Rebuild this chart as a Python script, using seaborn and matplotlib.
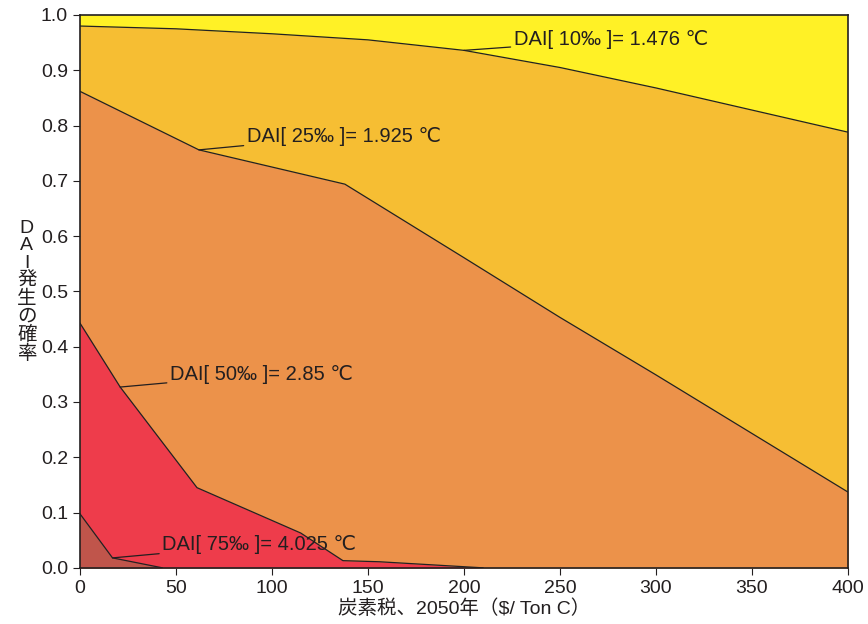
import numpy as np
import pandas as pd
import matplotlib
matplotlib.use("Agg")
import matplotlib.pyplot as plt
import seaborn as sns

# Boundaries (carbon tax $/ton C -> probability)
x_10 = [0, 50, 100, 150, 200, 250, 300, 350, 400]
p_10 = [0.980, 0.975, 0.966, 0.955, 0.936, 0.905, 0.868, 0.828, 0.788]

x_25 = [0, 62, 138, 200, 250, 300, 350, 400]
p_25 = [0.862, 0.756, 0.694, 0.561, 0.453, 0.349, 0.243, 0.137]

x_50 = [0, 21, 61, 115, 137, 156, 210]
p_50 = [0.443, 0.327, 0.145, 0.063, 0.013, 0.011, 0.0]

x_75 = [0, 17, 43]
p_75 = [0.098, 0.018, 0.0]

labels = ["DAI[ 10‰ ]= 1.476 ℃", "DAI[ 25‰ ]= 1.925 ℃",
          "DAI[ 50‰ ]= 2.85 ℃", "DAI[ 75‰ ]= 4.025 ℃"]

colors = ["#F6BE33", "#EC924A", "#EE3C4B", "#C0554B"]
top_color = "#FFF126"

sns.set_style("ticks")
plt.rcParams["font.family"] = ["Liberation Sans", "DejaVu Sans", "Noto Sans CJK JP"]

fig, ax = plt.subplots(figsize=(8.68, 6.24), dpi=100)
ax.set_facecolor(top_color)

curves = [(x_10, p_10), (x_25, p_25), (x_50, p_50), (x_75, p_75)]
for (xs, ps), c in zip(curves, colors):
    ax.fill_between(xs, ps, 0, color=c, linewidth=0)
    df = pd.DataFrame({"x": xs, "p": ps})
    sns.lineplot(data=df, x="x", y="p", ax=ax, color="#222222", linewidth=0.9)

# annotation leaders: (point on curve, text position)
anns = [((200, 0.936), (226, 0.955)),
        ((62, 0.756), (87, 0.781)),
        ((21, 0.327), (47, 0.350)),
        ((17, 0.018), (43, 0.042))]
for lab, (pt, tp) in zip(labels, anns):
    ax.annotate(lab, xy=pt, xytext=tp, fontsize=14.5, color="#231f20",
                va="center", ha="left",
                arrowprops=dict(arrowstyle="-", color="#231f20", lw=0.9,
                                shrinkA=0, shrinkB=0))

ax.set_xlim(0, 400)
ax.set_ylim(0, 1.0)
ax.set_xticks(np.arange(0, 401, 50))
ax.set_yticks(np.arange(0, 1.01, 0.1))
ax.set_yticklabels([f"{v:.1f}" for v in np.arange(0, 1.01, 0.1)])
ax.tick_params(labelsize=14, colors="#231f20", length=5)

ax.set_xlabel("炭素税、2050年（$/ Ton C）", fontsize=14, color="#231f20", labelpad=2)
ax.set_ylabel("D\nA\nI\n発\n生\nの\n確\n率", fontsize=14, color="#231f20",
              rotation=0, va="center", labelpad=10, linespacing=1.05)

for s in ax.spines.values():
    s.set_visible(True)
    s.set_color("#231f20")
    s.set_linewidth(1.2)

fig.subplots_adjust(left=0.092, right=0.977, top=0.976, bottom=0.09)
fig.savefig("out.png", dpi=100)
